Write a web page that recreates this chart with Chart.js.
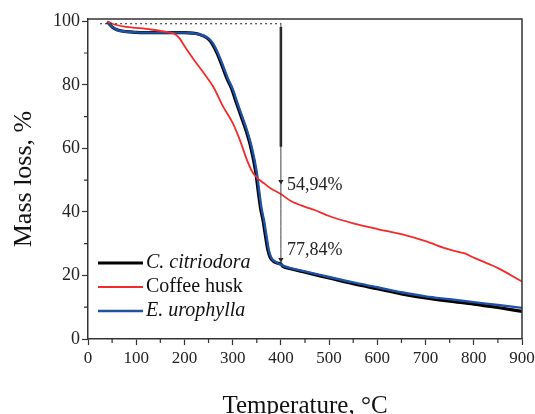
<!DOCTYPE html>
<html>
<head>
<meta charset="utf-8">
<script src="https://cdn.jsdelivr.net/npm/chart.js@4.4.1/dist/chart.umd.min.js"></script>
<style>
  body { margin: 0; background: #fff; }
  #wrap { width: 535px; height: 414px; }
</style>
</head>
<body>
<div id="wrap"><canvas id="tga" width="535" height="414"></canvas></div>
<script>
// TGA curves
var tempCitriodora = [40, 45, 50, 60, 80, 100, 150, 200, 230, 248, 258, 268, 278, 288, 298, 308, 318, 328, 338, 348, 353, 358, 363, 368, 373, 378, 385, 392, 400, 403, 420, 450, 500, 550, 600, 650, 700, 750, 800, 850, 900];
var massCitriodora = [99.8, 99.0, 98.2, 97.3, 96.7, 96.5, 96.4, 96.4, 95.9, 94.6, 92.8, 89.8, 86.0, 82.0, 78.7, 74.2, 69.9, 65.5, 60.1, 52.4, 46.5, 41.0, 37.3, 32.5, 28.0, 25.6, 24.4, 23.9, 23.6, 23.0, 22.1, 21.0, 19.2, 17.4, 15.8, 14.2, 12.9, 11.9, 11.0, 9.9, 8.7];

var tempCoffee = [40, 50, 80, 100, 130, 160, 180, 190, 200, 220, 240, 260, 280, 300, 315, 330, 340, 350, 365, 380, 400, 420, 450, 470, 500, 550, 600, 650, 700, 740, 770, 780, 800, 850, 900];
var massCoffee = [100.0, 99.2, 98.2, 97.9, 97.4, 96.7, 96.0, 94.6, 92.2, 87.8, 83.7, 79.3, 73.2, 68.0, 62.6, 56.2, 52.8, 50.8, 49.0, 47.3, 45.6, 43.5, 41.6, 40.6, 38.7, 36.4, 34.6, 33.0, 30.8, 28.6, 27.3, 27.0, 25.6, 22.3, 18.1];

var tempUrophylla = [40, 45, 50, 60, 80, 100, 150, 200, 230, 250, 260, 270, 280, 290, 300, 310, 320, 330, 340, 350, 355, 360, 365, 370, 375, 380, 390, 400, 420, 450, 500, 550, 600, 650, 700, 750, 800, 850, 900];
var massUrophylla = [99.8, 99.0, 98.2, 97.3, 96.7, 96.5, 96.4, 96.4, 95.9, 94.6, 92.8, 89.8, 86.0, 82.0, 78.7, 74.2, 69.9, 65.5, 60.1, 52.4, 46.5, 41.0, 37.3, 32.5, 28.0, 25.6, 24.2, 23.3, 22.3, 21.3, 19.5, 17.8, 16.3, 14.7, 13.4, 12.5, 11.6, 10.7, 9.8];

var seriesNames = ['C. citriodora', 'Coffee husk', 'E. urophylla'];
var seriesItalic = [true, false, true];

var xTicks = [0, 100, 200, 300, 400, 500, 600, 700, 800, 900];
var xMinorTicks = [50, 150, 250, 350, 450, 550, 650, 750, 850];
var yTicks = [0, 20, 40, 60, 80, 100];
var yMinorTicks = [10, 30, 50, 70, 90];

// annotation marks
var markTemp = 400;
var markTop = 99.5;
var markBottom = 23.5;
var markThickFrom = 98.2;
var markThickTo = 60.5;
var dottedLevel = 99.2;
var dottedFrom = 25;
var arrowLevels = [49.6, 25.0];
var markLabels = ['54,94%', '77,84%'];
var markLabelLevels = [48.4, 27.9];

var serif = '"Liberation Serif", "Times New Roman", serif';

function toPoints(xs, ys) {
  return xs.map(function(x, i) { return { x: x, y: ys[i] }; });
}

var frameAndMinor = {
  id: 'frameAndMinor',
  afterDraw: function(chart) {
    var ctx = chart.ctx;
    var a = chart.chartArea;
    var xs = chart.scales.x, ys = chart.scales.y;
    ctx.save();
    ctx.strokeStyle = '#333';
    ctx.lineWidth = 1.5;
    ctx.beginPath();
    ctx.moveTo(a.left, a.top);
    ctx.lineTo(a.right, a.top);
    ctx.lineTo(a.right, a.bottom);
    ctx.stroke();
    ctx.lineWidth = 1.2;
    ctx.beginPath();
    xMinorTicks.forEach(function(v) {
      var px = xs.getPixelForValue(v);
      ctx.moveTo(px, a.bottom);
      ctx.lineTo(px, a.bottom + 4);
    });
    yMinorTicks.forEach(function(v) {
      var py = ys.getPixelForValue(v);
      ctx.moveTo(a.left, py);
      ctx.lineTo(a.left - 4, py);
    });
    ctx.stroke();

    // value labels
    ctx.fillStyle = '#222';
    ctx.font = '18px ' + serif;
    ctx.textAlign = 'left';
    ctx.textBaseline = 'middle';
    markLabels.forEach(function(t, i) {
      ctx.fillText(t, xs.getPixelForValue(markTemp) + 6, ys.getPixelForValue(markLabelLevels[i]));
    });

    // legend
    var lx = a.left + 10, ly = a.top + 244;
    chart.data.datasets.slice(0, 3).forEach(function(ds, i) {
      var y = ly + i * 24;
      ctx.strokeStyle = ds.borderColor;
      ctx.lineWidth = ds.borderWidth;
      ctx.beginPath();
      ctx.moveTo(lx, y);
      ctx.lineTo(lx + 45, y);
      ctx.stroke();
      ctx.fillStyle = '#111';
      ctx.font = (seriesItalic[i] ? 'italic ' : '') + '20px ' + serif;
      ctx.fillText(seriesNames[i], lx + 48, y);
    });
    ctx.restore();
  }
};

var ctx = document.getElementById('tga').getContext('2d');
new Chart(ctx, {
  type: 'line',
  data: {
    datasets: [
      {
        label: seriesNames[0],
        data: toPoints(tempCitriodora, massCitriodora),
        borderColor: '#000',
        borderWidth: 3.2,
        order: 3
      },
      {
        label: seriesNames[1],
        data: toPoints(tempCoffee, massCoffee),
        borderColor: '#f42a2a',
        borderWidth: 1.8,
        order: 1
      },
      {
        label: seriesNames[2],
        data: toPoints(tempUrophylla, massUrophylla),
        borderColor: '#1f52a5',
        borderWidth: 2.4,
        order: 2
      },
      {
        label: 'marker line',
        data: [{ x: markTemp, y: markTop }, { x: markTemp, y: markBottom }],
        borderColor: '#444',
        borderWidth: 1,
        order: 0
      },
      {
        label: 'marker thick',
        data: [{ x: markTemp, y: markThickFrom }, { x: markTemp, y: markThickTo }],
        borderColor: '#111',
        borderWidth: 2.5,
        order: 0
      },
      {
        label: 'dotted',
        data: [{ x: dottedFrom, y: dottedLevel }, { x: markTemp, y: dottedLevel }],
        borderColor: '#222',
        borderWidth: 1.2,
        borderDash: [2, 3],
        order: 0
      },
      {
        label: 'arrows',
        data: arrowLevels.map(function(v) { return { x: markTemp, y: v }; }),
        showLine: false,
        pointStyle: 'triangle',
        rotation: 180,
        pointRadius: 3,
        pointBackgroundColor: '#111',
        pointBorderColor: '#111',
        pointBorderWidth: 0,
        order: 0
      }
    ]
  },
  options: {
    responsive: false,
    animation: false,
    events: [],
    layout: { padding: { top: 19, right: 13, left: 0, bottom: 0 } },
    elements: {
      point: { radius: 0 },
      line: { cubicInterpolationMode: 'monotone', fill: false }
    },
    plugins: {
      legend: { display: false },
      tooltip: { enabled: false }
    },
    scales: {
      x: {
        type: 'linear',
        min: 0,
        max: 900,
        afterBuildTicks: function(s) { s.ticks = xTicks.map(function(v) { return { value: v }; }); },
        afterFit: function(s) { s.height = 75; s.paddingRight = 0; s.paddingLeft = 0; },
        grid: { drawOnChartArea: false, tickLength: 6, tickColor: '#333', tickWidth: 1.2 },
        border: { color: '#333', width: 1.5 },
        ticks: { color: '#222', font: { family: serif, size: 17 }, padding: 3, maxRotation: 0 },
        title: {
          display: true,
          text: 'Temperature, \u00B0C',
          color: '#111',
          font: { family: serif, size: 25, lineHeight: 0.6 },
          padding: { top: 0, bottom: 0 }
        }
      },
      y: {
        min: 0,
        max: 100.7,
        afterBuildTicks: function(s) { s.ticks = yTicks.map(function(v) { return { value: v }; }); },
        afterFit: function(s) { s.width = 88; },
        grid: { drawOnChartArea: false, tickLength: 6, tickColor: '#333', tickWidth: 1.2 },
        border: { color: '#333', width: 1.5 },
        ticks: { color: '#222', font: { family: serif, size: 18 }, padding: 2 },
        title: {
          display: true,
          text: 'Mass loss, %',
          color: '#111',
          font: { family: serif, size: 26, lineHeight: 1 },
          padding: { top: 11, bottom: 0 }
        }
      }
    }
  },
  plugins: [frameAndMinor]
});
</script>
</body>
</html>
